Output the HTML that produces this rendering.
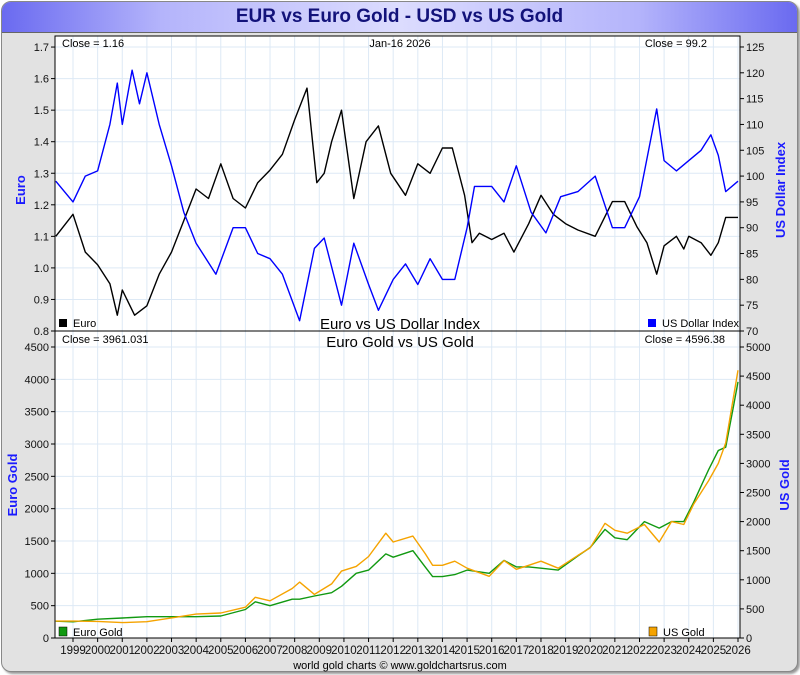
<!DOCTYPE html>
<html><head><meta charset="utf-8"><style>
html,body{margin:0;padding:0;background:#fff;}
body{width:800px;height:675px;position:relative;overflow:hidden;font-family:"Liberation Sans",sans-serif;}
#frame{position:absolute;left:1px;top:1px;width:795px;height:669px;border:1px solid #888;border-radius:10px;background:#e2e2e2;box-shadow:2px 2px 2px #999;overflow:hidden;}
#title{position:absolute;left:0;top:0;width:795px;height:30px;background:linear-gradient(to right,#6a6af0 0%,#b4b4fb 20%,#dcdcfe 50%,#b4b4fb 80%,#6a6af0 100%);border-bottom:1px solid #666;text-align:center;font-weight:bold;font-size:19px;color:#12127a;line-height:30px;}
svg{position:absolute;left:0;top:0;}
</style></head><body>
<div id="frame">
<div id="title">EUR vs Euro Gold - USD vs US Gold</div>
</div>
<svg id="chart" width="800" height="675"></svg>
<script>
const euroT=[1998.3,1999.0,1999.5,2000.0,2000.5,2000.8,2001.0,2001.5,2002.0,2002.5,2003.0,2003.5,2004.0,2004.5,2005.0,2005.5,2006.0,2006.5,2007.0,2007.5,2008.0,2008.5,2008.9,2009.2,2009.5,2009.9,2010.4,2010.9,2011.4,2011.9,2012.5,2013.0,2013.5,2014.0,2014.4,2014.9,2015.2,2015.5,2016.0,2016.5,2016.9,2017.5,2018.0,2018.5,2019.0,2019.5,2020.2,2020.9,2021.4,2021.9,2022.3,2022.7,2023.0,2023.5,2023.8,2024.0,2024.5,2024.9,2025.2,2025.5,2026.0];
const euroV=[1.10,1.17,1.05,1.01,0.95,0.85,0.93,0.85,0.88,0.98,1.05,1.15,1.25,1.22,1.33,1.22,1.19,1.27,1.31,1.36,1.47,1.57,1.27,1.30,1.40,1.50,1.22,1.40,1.45,1.30,1.23,1.33,1.30,1.38,1.38,1.23,1.08,1.11,1.09,1.11,1.05,1.14,1.23,1.17,1.14,1.12,1.10,1.21,1.21,1.13,1.08,0.98,1.07,1.10,1.06,1.10,1.08,1.04,1.08,1.16,1.16];
const usdT=[1998.3,1999.0,1999.5,2000.0,2000.5,2000.8,2001.0,2001.4,2001.7,2002.0,2002.5,2003.0,2003.5,2004.0,2004.8,2005.5,2006.0,2006.5,2007.0,2007.5,2008.2,2008.8,2009.2,2009.9,2010.4,2011.0,2011.4,2012.0,2012.5,2013.0,2013.5,2014.0,2014.5,2015.0,2015.3,2016.0,2016.5,2017.0,2017.6,2018.2,2018.8,2019.5,2020.2,2020.9,2021.4,2022.0,2022.7,2023.0,2023.5,2024.0,2024.5,2024.9,2025.2,2025.5,2026.0];
const usdV=[99,95,100,101,110,118,110,120.5,114,120,110,102,93,87,81,90,90,85,84,81,72,86,88,75,87,79,74,80,83,79,84,80,80,90,98,98,95,102,93,89,96,97,100,90,90,96,113,103,101,103,105,108,104,97,99];
const goldT=[1998.3,1999.0,2000.0,2001.0,2002.0,2003.0,2004.0,2005.0,2006.0,2006.4,2007.0,2007.9,2008.2,2008.8,2009.5,2009.9,2010.5,2011.0,2011.7,2012.0,2012.8,2013.3,2013.6,2014.0,2014.5,2015.0,2015.9,2016.5,2017.0,2017.5,2018.0,2018.7,2019.5,2020.0,2020.6,2021.0,2021.5,2022.2,2022.8,2023.3,2023.8,2024.2,2024.8,2025.2,2025.5,2025.8,2026.0];
const usGoldV=[290,290,285,265,280,345,410,430,530,700,640,850,960,750,930,1150,1230,1400,1800,1650,1750,1450,1250,1250,1320,1200,1060,1330,1180,1250,1320,1200,1420,1550,1970,1850,1800,1950,1650,2000,1950,2300,2700,3000,3350,4100,4600];
const euGoldV=[260,250,290,310,330,330,330,340,440,560,500,600,600,650,700,800,1000,1050,1300,1250,1350,1100,950,950,980,1050,1000,1200,1100,1100,1080,1050,1270,1400,1680,1550,1520,1800,1700,1800,1800,2100,2600,2900,2950,3550,3960];
const years=[1999,2000,2001,2002,2003,2004,2005,2006,2007,2008,2009,2010,2011,2012,2013,2014,2015,2016,2017,2018,2019,2020,2021,2022,2023,2024,2025,2026];
const euroTicks=[0.8,0.9,1.0,1.1,1.2,1.3,1.4,1.5,1.6,1.7];
const usdTicks=[70,75,80,85,90,95,100,105,110,115,120,125];
const euGoldTicks=[0,500,1000,1500,2000,2500,3000,3500,4000,4500];
const usGoldTicks=[0,500,1000,1500,2000,2500,3000,3500,4000,4500,5000];

const L=55,R=740,T1=36,B1=331,B2=638;
const X=t=>Math.max(L,73+(t-1999)*24.63);
const yEuro=v=>331-(v-0.8)*315.5;
const yUsd=v=>331-(v-70)*5.164;
const yEuG=v=>638-v*0.06467;
const yUsG=v=>638-v*0.0582;
const svg=document.getElementById('chart');
const NS='http://www.w3.org/2000/svg';
function mk(tag,a,parent){const e=document.createElementNS(NS,tag);for(const k in a)e.setAttribute(k,a[k]);(parent||svg).appendChild(e);return e;}
function txt(x,y,s,a){const e=mk('text',Object.assign({x:x,y:y,'font-size':11,fill:'#111','font-family':'Liberation Sans, sans-serif'},a||{}));e.textContent=s;return e;}

const bg1=mk('rect',{x:L,y:T1,width:R-L,height:B1-T1,fill:'#fff'});


const bg2=mk('rect',{x:L,y:B1,width:R-L,height:B2-B1,fill:'#fff'});



years.forEach(y=>{mk('line',{x1:X(y),x2:X(y),y1:T1,y2:B2,stroke:'#dde9f5','stroke-width':1});});
euroTicks.forEach(v=>{mk('line',{x1:L,x2:R,y1:yEuro(v),y2:yEuro(v),stroke:'#dde9f5'});});
euGoldTicks.forEach(v=>{mk('line',{x1:L,x2:R,y1:yEuG(v),y2:yEuG(v),stroke:'#dde9f5'});});

function series(T,V,xf,yf,color,name){
  let d='';T.forEach((t,i)=>{d+=(i?'L':'M')+xf(t).toFixed(1)+','+yf(V[i]).toFixed(1);});
  const p=mk('path',{d:d,fill:'none',stroke:color,'stroke-width':1.4,'stroke-linejoin':'round'});
  
  
}
series(euroT,euroV,X,yEuro,'#000','euro-line');
series(usdT,usdV,X,yUsd,'#0000ff','us-dollar-index-line');
series(goldT,euGoldV,X,yEuG,'#119911','euro-gold-line');
series(goldT,usGoldV,X,yUsG,'#f5a300','us-gold-line');

mk('rect',{x:L,y:T1,width:R-L,height:B2-T1,fill:'none',stroke:'#000','stroke-width':1});
mk('line',{x1:L,x2:R,y1:B1,y2:B1,stroke:'#000','stroke-width':1});

euroTicks.forEach(v=>{const y=yEuro(v);mk('line',{x1:L-4,x2:L,y1:y,y2:y,stroke:'#000'});const t=txt(L-6,y+4,v.toFixed(1),{'text-anchor':'end'});});
usdTicks.forEach(v=>{const y=yUsd(v);mk('line',{x1:R,x2:R+4,y1:y,y2:y,stroke:'#000'});const t=txt(R+6,y+4,String(v));});
euGoldTicks.forEach(v=>{const y=yEuG(v);mk('line',{x1:L-4,x2:L,y1:y,y2:y,stroke:'#000'});const t=txt(L-6,y+4,String(v),{'text-anchor':'end'});});
usGoldTicks.forEach(v=>{const y=yUsG(v);mk('line',{x1:R,x2:R+4,y1:y,y2:y,stroke:'#000'});const t=txt(R+6,y+4,String(v));});
years.forEach(y=>{mk('line',{x1:X(y),x2:X(y),y1:B2,y2:B2+4,stroke:'#000'});const t=txt(X(y),B2+16,String(y),{'text-anchor':'middle','font-size':11.5});});
</script>
<svg width="800" height="675" style="position:absolute;left:0;top:0" font-family="Liberation Sans, sans-serif">
<text x="62" y="47" font-size="11">Close = 1.16</text>
<text x="400" y="47" font-size="11" text-anchor="middle">Jan-16  2026</text>
<text x="707" y="47" font-size="11" text-anchor="end">Close = 99.2</text>
<rect x="59" y="319" width="8" height="8" fill="#000"/>
<text x="73" y="327" font-size="11">Euro</text>
<text x="400" y="329" font-size="15" text-anchor="middle">Euro vs US Dollar Index</text>
<rect x="648" y="319" width="8" height="8" fill="#0000ff"/>
<text x="662" y="327" font-size="11">US Dollar Index</text>
<text x="62" y="343" font-size="11">Close = 3961.031</text>
<text x="400" y="347" font-size="15" text-anchor="middle">Euro Gold vs US Gold</text>
<text x="725" y="343" font-size="11" text-anchor="end">Close = 4596.38</text>
<rect x="59" y="627" width="8" height="9" fill="#119911" stroke="#000" stroke-width="0.5"/>
<text x="73" y="636" font-size="11">Euro Gold</text>
<rect x="649" y="627" width="8" height="9" fill="#f5a300" stroke="#000" stroke-width="0.5"/>
<text x="663" y="636" font-size="11">US Gold</text>
<text x="400" y="669" font-size="11" text-anchor="middle">world gold charts © www.goldchartsrus.com</text>
<text transform="translate(25,190) rotate(-90)" font-size="13" font-weight="bold" fill="#1a1aff" text-anchor="middle">Euro</text>
<text transform="translate(785,190) rotate(-90)" font-size="13" font-weight="bold" fill="#1a1aff" text-anchor="middle">US Dollar Index</text>
<text transform="translate(17,485) rotate(-90)" font-size="13" font-weight="bold" fill="#1a1aff" text-anchor="middle">Euro Gold</text>
<text transform="translate(789,485) rotate(-90)" font-size="13" font-weight="bold" fill="#1a1aff" text-anchor="middle">US Gold</text>
</svg>
</body></html>
